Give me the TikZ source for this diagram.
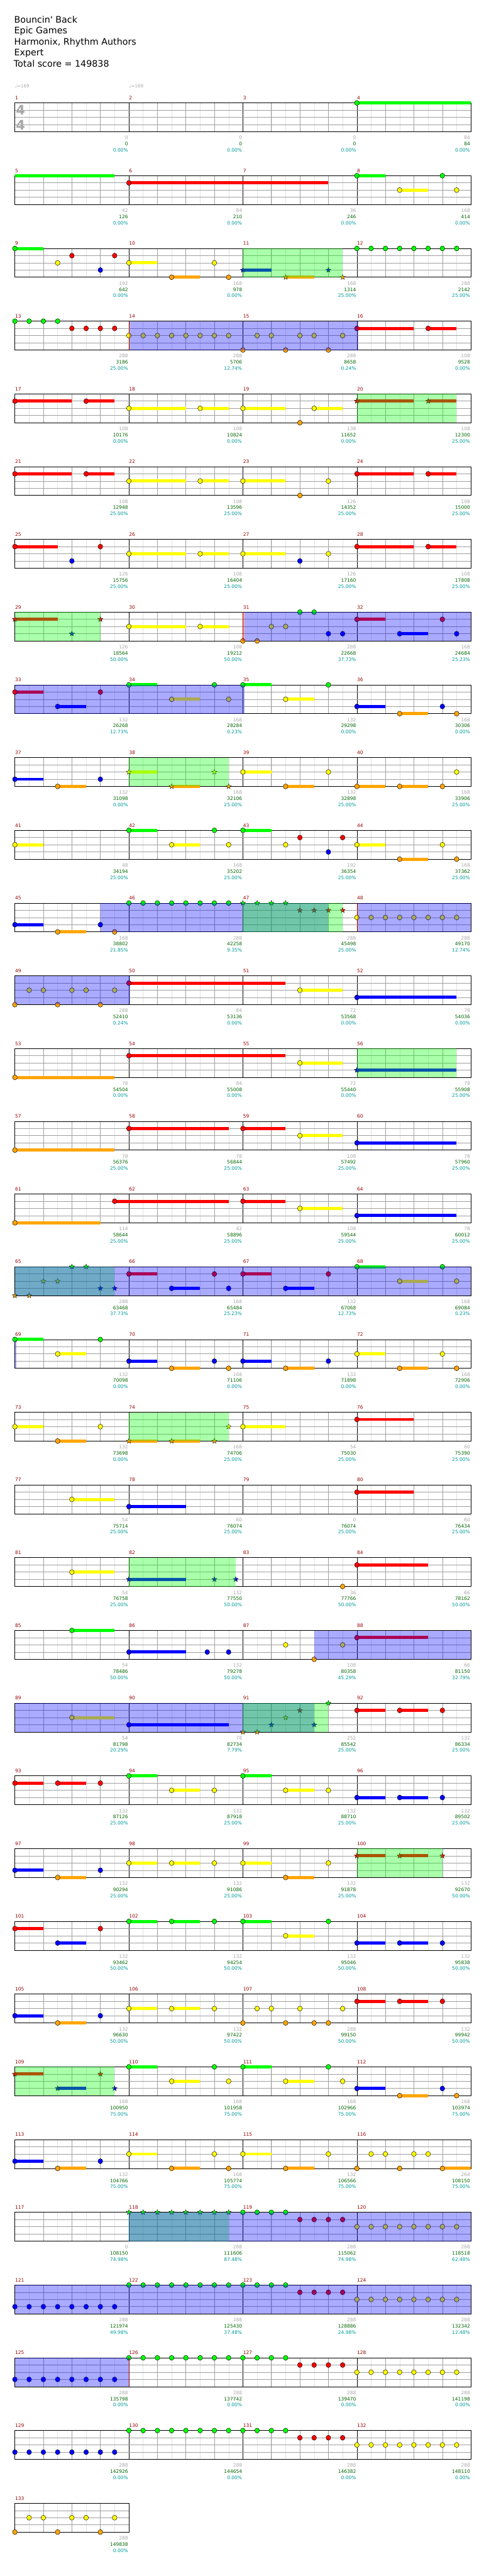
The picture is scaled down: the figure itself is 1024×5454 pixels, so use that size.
\documentclass[tikz,border=0pt]{standalone}
\usepackage{fontspec}
\newfontfamily\dv{DejaVu Sans}
\usetikzlibrary{shapes.geometric}
\definecolor{cG}{HTML}{00FF00}
\definecolor{cR}{HTML}{FF0000}
\definecolor{cY}{HTML}{FFFF00}
\definecolor{cB}{HTML}{0000FF}
\definecolor{cO}{HTML}{FFA500}
\definecolor{mnumc}{HTML}{990000}
\definecolor{gnumc}{HTML}{A8A8A8}
\definecolor{snumc}{HTML}{006600}
\definecolor{pnumc}{HTML}{009999}
\definecolor{gridl}{HTML}{E2E2E2}
\definecolor{gridm}{HTML}{A0A0A0}
\tikzset{
  nd/.style={draw=black, line width=0.6pt},
  starn/.style={star, star points=5, star point ratio=2.4, minimum size=11.5pt, inner sep=0pt, draw=black, line width=0.45pt},
  mnum/.style={anchor=base west, inner sep=0pt, text=mnumc, font=\dv\fontsize{10}{12}\selectfont},
  lab/.style={anchor=base east, inner sep=0pt, font=\dv\fontsize{10}{12}\selectfont},
  gnum/.style={lab, text=gnumc}, snum/.style={lab, text=snumc}, pnum/.style={lab, text=pnumc},
  ttl/.style={anchor=base west, inner sep=0pt, font=\dv\fontsize{19}{22}\selectfont},
}
% notes
\newcommand{\NTe}[3]{\draw[nd, fill=#3] (#1,#2) ellipse[x radius=5pt, y radius=5.3pt];}
\newcommand{\SBr}[4]{\draw[#4, line width=6.6pt] (#1,#3) -- (#2,#3);}
\newcommand{\SNt}[4]{\SBr{#1}{#2}{#3}{#4}\NTe{#1}{#3}{#4}}
\newcommand{\STr}[3]{\node[starn, fill=#3] at (#1,#2) {};}
\newcommand{\SSt}[4]{\SBr{#1}{#2}{#3}{#4}\STr{#1}{#3}{#4}}
\newcommand{\nG}[1]{\foreach \q in {#1}{\NTe{\q}{0}{cG}}}
\newcommand{\nR}[1]{\foreach \q in {#1}{\NTe{\q}{1}{cR}}}
\newcommand{\nY}[1]{\foreach \q in {#1}{\NTe{\q}{2}{cY}}}
\newcommand{\nB}[1]{\foreach \q in {#1}{\NTe{\q}{3}{cB}}}
\newcommand{\nO}[1]{\foreach \q in {#1}{\NTe{\q}{4}{cO}}}
\newcommand{\sG}[2]{\SNt{#1}{#2}{0}{cG}}
\newcommand{\sR}[2]{\SNt{#1}{#2}{1}{cR}}
\newcommand{\sY}[2]{\SNt{#1}{#2}{2}{cY}}
\newcommand{\sB}[2]{\SNt{#1}{#2}{3}{cB}}
\newcommand{\sO}[2]{\SNt{#1}{#2}{4}{cO}}
\newcommand{\tG}[1]{\foreach \q in {#1}{\STr{\q}{0}{cG}}}
\newcommand{\tR}[1]{\foreach \q in {#1}{\STr{\q}{1}{cR}}}
\newcommand{\tY}[1]{\foreach \q in {#1}{\STr{\q}{2}{cY}}}
\newcommand{\tB}[1]{\foreach \q in {#1}{\STr{\q}{3}{cB}}}
\newcommand{\tO}[1]{\foreach \q in {#1}{\STr{\q}{4}{cO}}}
\newcommand{\uR}[2]{\SSt{#1}{#2}{1}{cR}}
\newcommand{\uY}[2]{\SSt{#1}{#2}{2}{cY}}
\newcommand{\uB}[2]{\SSt{#1}{#2}{3}{cB}}
\newcommand{\uO}[2]{\SSt{#1}{#2}{4}{cO}}
% regions
\newcommand{\GRg}[2]{\fill[cG, fill opacity=0.3333] (#1,0) rectangle (#2,4);}
\newcommand{\BRg}[2]{\fill[cB, fill opacity=0.3333] (#1,0) rectangle (#2,4);}
\newcommand{\RMk}[1]{\fill[cR, fill opacity=0.3333] (#1,0) rectangle ++(3pt,-61pt);}
\newcommand{\RLn}[1]{\draw[mnumc, line width=0.9pt] (#1,0) -- (#1,4);}
% labels
\newcommand{\Lab}[4]{%
  \node[gnum, xshift=-1.5pt, yshift=-16.5pt] at ({8*#1},4) {#2};%
  \node[snum, xshift=-1.5pt, yshift=-29.5pt] at ({8*#1},4) {#3};%
  \node[pnum, xshift=-1.5pt, yshift=-42.5pt] at ({8*#1},4) {#4\%};}
% a row of the chart
\newcommand{\Row}[4]{%
  \pgfmathsetmacro{\RowT}{218+154*(#1-1)}%
  \pgfmathtruncatemacro{\RowW}{8*#2}%
  \pgfmathtruncatemacro{\RowWm}{8*#2-1}%
  \begin{scope}[xshift=31.5pt, yshift=-\RowT pt, x=30.1875pt, y=-15.25pt]
    \fill[white] (0,0) rectangle (\RowW,4);
    \foreach \i in {1,...,\RowWm} \draw[gridl, line width=0.6pt] (\i,0) -- (\i,4);
    \foreach \i in {2,4,...,\RowWm} \draw[gridm, line width=0.7pt] (\i,0) -- (\i,4);
    \ifnum#2>1 \foreach \i in {8,16,24} \draw[black, line width=0.7pt] (\i,0) -- (\i,4);\fi
    \foreach \i in {1,2,3} \draw[gridm, line width=0.9pt] (0,\i) -- (\RowW,\i);
    \draw[black, line width=1pt] (0,0) rectangle (\RowW,4);
    #4
    \foreach \j in {1,...,#2} {\pgfmathtruncatemacro{\RowM}{#3+\j-1}\node[mnum, xshift=0.3pt, yshift=7pt] at ({8*(\j-1)},0) {\RowM};}
  \end{scope}}
\begin{document}
\begin{tikzpicture}
\useasboundingbox (0,0) rectangle (1024pt,-5454pt);
\fill[white] (0,0) rectangle (1024pt,-5454pt);
% header
\node[ttl] (t1) at (29.8pt,-48pt) {Bouncin' Back};
\node[ttl] (t2) at (30pt,-71.5pt) {Epic Games};
\node[ttl] (t3) at (30pt,-95pt) {Harmonix, Rhythm Authors};
\node[ttl] (t4) at (30pt,-118.3pt) {Expert};
\node[ttl] (t5) at (29pt,-141.5pt) {Total score = 149838};
\node[anchor=base west, inner sep=0pt, text=gnumc, font=\dv\fontsize{9.5}{11}\selectfont] (tp1) at (31.5pt,-185.5pt) {♩=169};
\node[anchor=base west, inner sep=0pt, text=gnumc, font=\dv\fontsize{9.5}{11}\selectfont] (tp2) at (273pt,-185.5pt) {♩=169};

\Row{1}{4}{1}{\sG{24}{32}
 \Lab{1}{0}{0}{0.00}\Lab{2}{0}{0}{0.00}\Lab{3}{0}{0}{0.00}\Lab{4}{84}{84}{0.00}}
\node[anchor=base west, inner sep=0pt, text=gnumc, font=\dv\bfseries\fontsize{28}{30}\selectfont] (ts1) at (33.5pt,-243.3pt) {4};
\node[anchor=base west, inner sep=0pt, text=gnumc, font=\dv\bfseries\fontsize{28}{30}\selectfont] (ts2) at (33.5pt,-274.5pt) {4};

\Row{2}{4}{5}{\SBr{0}{7}{0}{cG}\sR{8}{22}\sG{24}{26}\nG{30}\sY{27}{29}\nY{31}
 \Lab{1}{42}{126}{0.00}\Lab{2}{84}{210}{0.00}\Lab{3}{36}{246}{0.00}\Lab{4}{168}{414}{0.00}}

\Row{3}{4}{9}{\sG{0}{2}\nR{4,7}\nY{3}\nB{6}\sY{8}{10}\sO{11}{13}\nY{14}\nO{15}\uB{16}{18}\tB{22}\uO{19}{21}\tO{23}\nG{24,...,31}\GRg{16}{23}
 \Lab{1}{192}{642}{0.00}\Lab{2}{168}{978}{0.00}\Lab{3}{168}{1314}{25.00}\Lab{4}{288}{2142}{25.00}}

\Row{4}{4}{13}{\nG{0,1,2,3}\nR{4,5,6,7}\nY{8,...,15}\nY{17,18,20,21,23}\nO{16,19,22}\sR{24}{28}\sR{29}{31}\RMk{8}\BRg{8.1}{24.1}
 \Lab{1}{288}{3186}{25.00}\Lab{2}{288}{5706}{12.74}\Lab{3}{288}{8658}{0.24}\Lab{4}{108}{9528}{0.00}}

\Row{5}{4}{17}{\sR{0}{4}\sR{5}{7}\sY{8}{12}\sY{13}{15}\sY{16}{19}\sY{21}{23}\nO{20}\uR{24}{28}\uR{29}{31}\GRg{24}{31}
 \Lab{1}{108}{10176}{0.00}\Lab{2}{108}{10824}{0.00}\Lab{3}{138}{11652}{0.00}\Lab{4}{108}{12300}{25.00}}

\Row{6}{4}{21}{\sR{0}{4}\sR{5}{7}\sY{8}{12}\sY{13}{15}\sY{16}{19}\nO{20}\nY{22}\sR{24}{28}\sR{29}{31}
 \Lab{1}{108}{12948}{25.00}\Lab{2}{108}{13596}{25.00}\Lab{3}{126}{14352}{25.00}\Lab{4}{108}{15000}{25.00}}

\Row{7}{4}{25}{\sR{0}{3}\nB{4}\nR{6}\sY{8}{12}\sY{13}{15}\sY{16}{19}\nB{20}\nY{22}\sR{24}{28}\sR{29}{31}
 \Lab{1}{126}{15756}{25.00}\Lab{2}{108}{16404}{25.00}\Lab{3}{126}{17160}{25.00}\Lab{4}{108}{17808}{25.00}}

\Row{8}{4}{29}{\uR{0}{3}\tR{6}\tB{4}\sY{8}{12}\sY{13}{15}\nO{16,17}\nG{20,21}\nY{18,19}\nB{22,23}\sR{24}{26}\nR{30}\sB{27}{29}\nB{31}\GRg{0}{6}\RMk{16}\RLn{16}\BRg{16.13}{32}
 \Lab{1}{126}{18564}{50.00}\Lab{2}{108}{19212}{50.00}\Lab{3}{288}{22668}{37.73}\Lab{4}{168}{24684}{25.23}}

\Row{9}{4}{33}{\sR{0}{2}\nR{6}\sB{3}{5}\sG{8}{10}\nG{14}\sG{16}{18}\sY{11}{13}\nY{15}\sY{19}{21}\nG{22}\sB{24}{26}\nB{30}\sO{27}{29}\nO{31}\BRg{0}{16.1}
 \Lab{1}{132}{26268}{12.73}\Lab{2}{168}{28284}{0.23}\Lab{3}{132}{29298}{0.00}\Lab{4}{168}{30306}{0.00}}

\Row{10}{4}{37}{\sB{0}{2}\sO{3}{5}\nB{6}\uY{8}{10}\tY{14}\uO{11}{13}\tO{15}\sY{16}{18}\nY{22,31}\sO{19}{21}\sO{24}{26}\sO{27}{29}\nO{30}\GRg{8}{15}
 \Lab{1}{132}{31098}{0.00}\Lab{2}{168}{32106}{25.00}\Lab{3}{132}{32898}{25.00}\Lab{4}{168}{33906}{25.00}}

\Row{11}{4}{41}{\sY{0}{2}\sG{8}{10}\sY{11}{13}\nG{14}\nY{15}\sG{16}{18}\nY{19}\nR{20,23}\nB{22}\sY{24}{26}\nY{30}\sO{27}{29}\nO{31}
 \Lab{1}{48}{34194}{25.00}\Lab{2}{168}{35202}{25.00}\Lab{3}{192}{36354}{25.00}\Lab{4}{168}{37362}{25.00}}

\Row{12}{4}{45}{\sB{0}{2}\sO{3}{5}\nB{6}\nO{7}\nG{8,...,15}\tG{16,17,18,19}\tR{20,21,22,23}\nY{24,...,31}\BRg{6}{22}\GRg{16}{23}\RMk{24}\BRg{24.1}{32}
 \Lab{1}{168}{38802}{21.85}\Lab{2}{288}{42258}{9.35}\Lab{3}{288}{45498}{25.00}\Lab{4}{288}{49170}{12.74}}

\Row{13}{4}{49}{\nO{0,3,6}\nY{1,2,4,5,7}\sR{8}{19}\sY{20}{23}\sB{24}{31}\BRg{0}{8.1}
 \Lab{1}{288}{52410}{0.24}\Lab{2}{84}{53136}{0.00}\Lab{3}{72}{53568}{0.00}\Lab{4}{78}{54036}{0.00}}

\Row{14}{4}{53}{\sO{0}{7}\sR{8}{19}\sY{20}{23}\uB{24}{31}\GRg{24}{31}
 \Lab{1}{78}{54504}{0.00}\Lab{2}{84}{55008}{0.00}\Lab{3}{72}{55440}{0.00}\Lab{4}{78}{55908}{25.00}}

\Row{15}{4}{57}{\sO{0}{7}\sR{8}{15}\sR{16}{19}\sY{20}{23}\sB{24}{31}
 \Lab{1}{78}{56376}{25.00}\Lab{2}{78}{56844}{25.00}\Lab{3}{108}{57492}{25.00}\Lab{4}{78}{57960}{25.00}}

\Row{16}{4}{61}{\sO{0}{6}\sR{7}{15}\sR{16}{19}\sY{20}{23}\sB{24}{31}
 \Lab{1}{114}{58644}{25.00}\Lab{2}{42}{58896}{25.00}\Lab{3}{108}{59544}{25.00}\Lab{4}{78}{60012}{25.00}}

\Row{17}{4}{65}{\tO{0,1}\tY{2,3}\tG{4,5}\tB{6,7}\sR{8}{10}\nR{14}\sR{16}{18}\nR{22}\sB{11}{13}\nB{15}\sB{19}{21}\sG{24}{26}\nG{30}\sY{27}{29}\nY{31}\GRg{0}{7}\BRg{0}{32}
 \Lab{1}{288}{63468}{37.73}\Lab{2}{168}{65484}{25.23}\Lab{3}{132}{67068}{12.73}\Lab{4}{168}{69084}{0.23}}

\Row{18}{4}{69}{\sG{0}{2}\nG{6}\sY{3}{5}\sB{8}{10}\nB{14}\sO{11}{13}\nO{15}\sB{16}{18}\nB{22}\sO{19}{21}\sY{24}{26}\nY{30}\sO{27}{29}\nO{31}\BRg{0}{0.12}
 \Lab{1}{132}{70098}{0.00}\Lab{2}{168}{71106}{0.00}\Lab{3}{132}{71898}{0.00}\Lab{4}{168}{72906}{0.00}}

\Row{19}{4}{73}{\sY{0}{2}\sO{3}{5}\nY{6}\uO{8}{10}\uO{11}{13}\tO{14}\tY{15}\sY{16}{19}\sR{24}{28}\GRg{8}{15}
 \Lab{1}{132}{73698}{0.00}\Lab{2}{168}{74706}{25.00}\Lab{3}{54}{75030}{25.00}\Lab{4}{60}{75390}{25.00}}

\Row{20}{4}{77}{\sY{4}{7}\sB{8}{12}\sR{24}{28}
 \Lab{1}{54}{75714}{25.00}\Lab{2}{60}{76074}{25.00}\Lab{3}{0}{76074}{25.00}\Lab{4}{60}{76434}{25.00}}

\Row{21}{4}{81}{\sY{4}{7}\uB{8}{12}\tB{14,15.5}\nO{23}\sR{24}{29}\GRg{8}{15.48}
 \Lab{1}{54}{76758}{25.00}\Lab{2}{132}{77550}{50.00}\Lab{3}{36}{77766}{50.00}\Lab{4}{66}{78162}{50.00}}

\Row{22}{4}{85}{\sG{4}{7}\sB{8}{12}\nB{13.5,15}\nY{19}\nO{21}\nY{23}\sR{24}{29}\BRg{21}{32}
 \Lab{1}{54}{78486}{50.00}\Lab{2}{132}{79278}{50.00}\Lab{3}{108}{80358}{45.29}\Lab{4}{66}{81150}{32.79}}

\Row{23}{4}{89}{\sY{4}{7}\sB{8}{15}\tO{16,17}\tB{18,21}\tY{19}\tR{20}\tG{22}\sR{24}{26}\sR{27}{29}\nR{30}\BRg{0}{21}\GRg{16}{22}
 \Lab{1}{54}{81798}{20.29}\Lab{2}{78}{82734}{7.79}\Lab{3}{252}{85542}{25.00}\Lab{4}{132}{86334}{25.00}}

\Row{24}{4}{93}{\sR{0}{2}\sR{3}{5}\nR{6}\sG{8}{10}\sY{11}{13}\nY{14}\sG{16}{18}\sY{19}{21}\nY{22}\sB{24}{26}\sB{27}{29}\nB{30}
 \Lab{1}{132}{87126}{25.00}\Lab{2}{132}{87918}{25.00}\Lab{3}{132}{88710}{25.00}\Lab{4}{132}{89502}{25.00}}

\Row{25}{4}{97}{\sB{0}{2}\sO{3}{5}\nB{6}\sY{8}{10}\sY{11}{13}\nY{14}\sY{16}{18}\sO{19}{21}\nY{22}\uR{24}{26}\uR{27}{29}\tR{30}\GRg{24}{30}
 \Lab{1}{132}{90294}{25.00}\Lab{2}{132}{91086}{25.00}\Lab{3}{132}{91878}{25.00}\Lab{4}{132}{92670}{50.00}}

\Row{26}{4}{101}{\sR{0}{2}\sB{3}{5}\nR{6}\sG{8}{10}\sG{11}{13}\nG{14}\sG{16}{18}\nG{22}\sY{19}{21}\sB{24}{26}\sB{27}{29}\nB{30}
 \Lab{1}{132}{93462}{50.00}\Lab{2}{132}{94254}{50.00}\Lab{3}{132}{95046}{50.00}\Lab{4}{132}{95838}{50.00}}

\Row{27}{4}{105}{\sB{0}{2}\sO{3}{5}\nB{6}\sY{8}{10}\sY{11}{13}\nY{14}\nO{16,19,21,22}\nY{17,18,20,23}\sR{24}{26}\sR{27}{29}\nR{30}
 \Lab{1}{132}{96630}{50.00}\Lab{2}{132}{97422}{50.00}\Lab{3}{288}{99150}{50.00}\Lab{4}{132}{99942}{50.00}}

\Row{28}{4}{109}{\uR{0}{2}\tR{6}\uB{3}{5}\tB{7}\sG{8}{10}\sY{11}{13}\nG{14}\nY{15}\sG{16}{18}\sY{19}{21}\nG{22}\nY{23}\sB{24}{26}\nB{30}\sO{27}{29}\nO{31}\GRg{0}{7}
 \Lab{1}{168}{100950}{75.00}\Lab{2}{168}{101958}{75.00}\Lab{3}{168}{102966}{75.00}\Lab{4}{168}{103974}{75.00}}

\Row{29}{4}{113}{\sB{0}{2}\sO{3}{5}\nB{6}\sY{8}{10}\sO{11}{13}\nY{14}\nO{15}\sY{16}{18}\sO{19}{21}\nY{22}\nO{24,27}\nY{25,26,28,29}\sO{30}{32}
 \Lab{1}{132}{104766}{75.00}\Lab{2}{168}{105774}{75.00}\Lab{3}{132}{106566}{75.00}\Lab{4}{264}{108150}{75.00}}

\Row{30}{4}{117}{\tG{8,...,15}\nG{16,...,19}\nR{20,...,23}\nY{24,...,31}\GRg{8}{15}\BRg{8}{32}
 \Lab{1}{0}{108150}{74.98}\Lab{2}{288}{111606}{87.48}\Lab{3}{288}{115062}{74.98}\Lab{4}{288}{118518}{62.48}}

\Row{31}{4}{121}{\nB{0,...,7}\nG{8,...,19}\nR{20,...,23}\nY{24,...,31}\BRg{0}{32}
 \Lab{1}{288}{121974}{49.98}\Lab{2}{288}{125430}{37.48}\Lab{3}{288}{128886}{24.98}\Lab{4}{288}{132342}{12.48}}

\Row{32}{4}{125}{\nB{0,...,7}\nG{8,...,19}\nR{20,...,23}\nY{24,...,31}\BRg{0}{8}\RLn{8}
 \Lab{1}{288}{135798}{0.00}\Lab{2}{288}{137742}{0.00}\Lab{3}{288}{139470}{0.00}\Lab{4}{288}{141198}{0.00}}

\Row{33}{4}{129}{\nB{0,...,7}\nG{8,...,19}\nR{20,...,23}\nY{24,...,31}
 \Lab{1}{288}{142926}{0.00}\Lab{2}{288}{144654}{0.00}\Lab{3}{288}{146382}{0.00}\Lab{4}{288}{148110}{0.00}}

\Row{34}{1}{133}{\nO{0,3,6}\nY{1,2,4,5,7}
 \Lab{1}{288}{149838}{0.00}}
\end{tikzpicture}
\end{document}
